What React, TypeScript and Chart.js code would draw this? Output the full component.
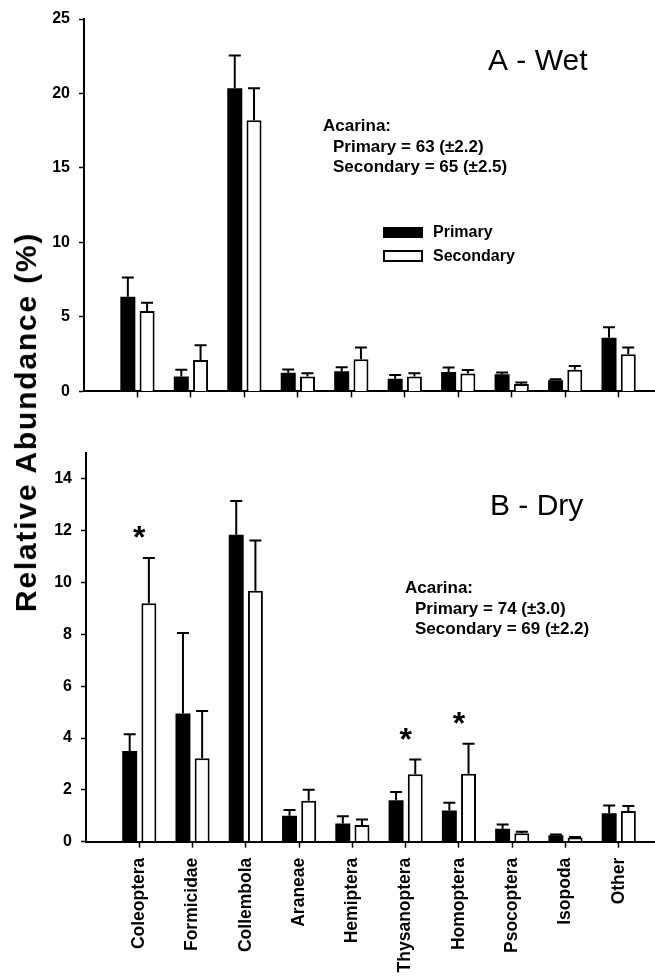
import React, { useEffect, useRef } from "react";
import { Chart, registerables } from "chart.js";

Chart.register(...registerables);

const FONT = '"Liberation Sans", Arial, Helvetica, sans-serif';

const categories = [
  "Coleoptera",
  "Formicidae",
  "Collembola",
  "Araneae",
  "Hemiptera",
  "Thysanoptera",
  "Homoptera",
  "Psocoptera",
  "Isopoda",
  "Other",
];
const seriesNames = ["Primary", "Secondary"];

// A - Wet season (mean and +SE)
const wetPrimary = [6.35, 1.0, 20.35, 1.25, 1.35, 0.85, 1.3, 1.15, 0.75, 3.6];
const wetPrimarySE = [1.3, 0.45, 2.2, 0.22, 0.27, 0.25, 0.3, 0.12, 0.07, 0.7];
const wetSecondary = [5.4, 2.1, 18.2, 1.0, 2.15, 1.0, 1.2, 0.5, 1.45, 2.5];
const wetSecondarySE = [0.55, 1.0, 2.15, 0.22, 0.8, 0.22, 0.23, 0.1, 0.26, 0.45];

// B - Dry season (mean and +SE)
const dryPrimary = [3.5, 4.95, 11.85, 1.0, 0.7, 1.6, 1.2, 0.5, 0.25, 1.1];
const dryPrimarySE = [0.65, 3.1, 1.3, 0.22, 0.28, 0.32, 0.3, 0.16, 0.03, 0.3];
const drySecondary = [9.2, 3.22, 9.68, 1.58, 0.64, 2.6, 2.62, 0.33, 0.16, 1.18];
const drySecondarySE = [1.75, 1.82, 1.94, 0.42, 0.22, 0.57, 1.16, 0.05, 0.02, 0.2];

const wetTicks = [0, 5, 10, 15, 20, 25];
const wetMax = 25;
const dryTicks = [0, 2, 4, 6, 8, 10, 12, 14];
const dryMax = 15;

const drySignificant = ["Coleoptera", "Thysanoptera", "Homoptera"];

const wetTitle = "A - Wet";
const dryTitle = "B - Dry";
const wetAcarina = ["Acarina:", "Primary = 63 (\u00b12.2)", "Secondary = 65 (\u00b12.5)"];
const dryAcarina = ["Acarina:", "Primary = 74 (\u00b13.0)", "Secondary = 69 (\u00b12.2)"];
const yTitle = "Relative Abundance (%)";

const X_MAX = 10.68;

const errorBarPlugin = {
  id: "errorBars",
  afterDatasetsDraw(chart: any) {
    const ctx = chart.ctx;
    const yScale = chart.scales.y;
    chart.data.datasets.forEach((ds: any, di: number) => {
      const meta = chart.getDatasetMeta(di);
      meta.data.forEach((bar: any, i: number) => {
        const v = ds.data[i].y;
        const e = ds.errors[i];
        const top = yScale.getPixelForValue(v + e);
        const { x, y } = bar.getProps(["x", "y"], true);
        ctx.save();
        ctx.strokeStyle = "#000";
        ctx.lineWidth = 2;
        ctx.beginPath();
        ctx.moveTo(x, y);
        ctx.lineTo(x, top);
        ctx.moveTo(x - 6, top);
        ctx.lineTo(x + 6, top);
        ctx.stroke();
        ctx.restore();
      });
    });
  },
};

const annotationPlugin = {
  id: "panelText",
  afterDraw(chart: any, _args: any, opts: any) {
    const ctx = chart.ctx;
    ctx.save();
    ctx.fillStyle = "#000";
    ctx.textBaseline = "alphabetic";
    ctx.textAlign = "left";
    (opts.texts || []).forEach((t: any) => {
      ctx.font = t.font;
      ctx.fillText(t.text, t.x, t.y);
    });
    if (opts.legend) {
      const L = opts.legend;
      ctx.fillStyle = "#000";
      ctx.fillRect(L.x, L.y1, 40, 11);
      ctx.fillStyle = "#fff";
      ctx.fillRect(L.x + 1, L.y2 + 1, 38, 10);
      ctx.strokeStyle = "#000";
      ctx.lineWidth = 2;
      ctx.strokeRect(L.x + 1, L.y2 + 1, 38, 10);
      ctx.fillStyle = "#000";
      ctx.font = `bold 16px ${FONT}`;
      ctx.fillText(seriesNames[0], L.x + 50, L.y1 + 10);
      ctx.fillText(seriesNames[1], L.x + 50, L.y2 + 11);
    }
    if (opts.stars) {
      const xs = chart.scales.x;
      const ys = chart.scales.y;
      ctx.font = `bold 32px ${FONT}`;
      ctx.textAlign = "center";
      const ds = chart.data.datasets;
      opts.stars.forEach((name: string) => {
        const i = categories.indexOf(name);
        const topVal = Math.max(
          ds[0].data[i].y + ds[0].errors[i],
          ds[1].data[i].y + ds[1].errors[i]
        );
        const cx = xs.getPixelForValue(i + 1);
        const cy = ys.getPixelForValue(topVal) - 26;
        const m = ctx.measureText("*");
        const base = cy + (m.actualBoundingBoxAscent - m.actualBoundingBoxDescent) / 2;
        ctx.fillText("*", cx, base);
      });
    }
    ctx.restore();
  },
};

function makeConfig(p: any) {
  return {
    type: "bar",
    data: {
      datasets: [
        {
          label: seriesNames[0],
          data: categories.map((_, i) => ({ x: i + 1, y: p.primary[i] })),
          errors: p.primarySE,
          backgroundColor: "#000",
          borderColor: "#000",
          borderWidth: 0,
        },
        {
          label: seriesNames[1],
          data: categories.map((_, i) => ({ x: i + 1, y: p.secondary[i] })),
          errors: p.secondarySE,
          backgroundColor: "#fff",
          borderColor: "#000",
          borderWidth: 2,
        },
      ],
    },
    options: {
      responsive: false,
      animation: false,
      events: [],
      layout: { padding: { top: p.padTop, left: 0, right: 0, bottom: 0 } },
      datasets: { bar: { categoryPercentage: 0.72, barPercentage: 0.78 } },
      plugins: {
        legend: { display: false },
        tooltip: { enabled: false },
        title: { display: false },
        panelText: { texts: p.texts, legend: p.legend, stars: p.stars },
      },
      scales: {
        x: {
          type: "linear",
          min: 0,
          max: X_MAX,
          offset: false,
          z: 1,
          afterBuildTicks: (s: any) => {
            s.ticks = categories.map((_, i) => ({ value: i + 1 }));
          },
          afterFit: (s: any) => {
            s.height = p.xHeight;
          },
          grid: {
            display: true,
            drawOnChartArea: false,
            drawTicks: true,
            tickLength: 6,
            tickWidth: 1.5,
            tickColor: "#000",
            offset: false,
          },
          border: { display: true, color: "#000", width: 2 },
          ticks: {
            display: p.showLabels,
            autoSkip: false,
            maxRotation: 90,
            minRotation: 90,
            padding: 10,
            color: "#000",
            font: { family: FONT, size: 17.5, weight: "bold" },
            callback: (v: any) => categories[Math.round(v) - 1] ?? "",
          },
        },
        y: {
          type: "linear",
          min: 0,
          max: p.max,
          z: 1,
          afterBuildTicks: (s: any) => {
            s.ticks = p.ticks.map((v: number) => ({ value: v }));
          },
          afterFit: (s: any) => {
            s.width = p.left;
          },
          grid: {
            drawOnChartArea: false,
            drawTicks: true,
            tickLength: 5,
            tickWidth: 1.5,
            tickColor: "#000",
          },
          border: { display: true, color: "#000", width: 2 },
          ticks: {
            padding: 9,
            color: "#000",
            font: { family: FONT, size: 16, weight: "bold" },
          },
        },
      },
    },
    plugins: [errorBarPlugin, annotationPlugin],
  };
}

export default function App() {
  const topRef = useRef<HTMLCanvasElement>(null);
  const botRef = useRef<HTMLCanvasElement>(null);

  useEffect(() => {
    const top = new Chart(
      topRef.current as HTMLCanvasElement,
      makeConfig({
        primary: wetPrimary,
        primarySE: wetPrimarySE,
        secondary: wetSecondary,
        secondarySE: wetSecondarySE,
        ticks: wetTicks,
        max: wetMax,
        padTop: 19,
        left: 84,
        xHeight: 17,
        showLabels: false,
        texts: [
          { text: wetTitle, x: 488, y: 70, font: `30px ${FONT}` },
          { text: wetAcarina[0], x: 323, y: 131, font: `bold 17px ${FONT}` },
          { text: wetAcarina[1], x: 333, y: 152, font: `bold 17px ${FONT}` },
          { text: wetAcarina[2], x: 333, y: 172, font: `bold 17px ${FONT}` },
        ],
        legend: { x: 383, y1: 227, y2: 250 },
        stars: null,
      }) as any
    );
    const bot = new Chart(
      botRef.current as HTMLCanvasElement,
      makeConfig({
        primary: dryPrimary,
        primarySE: dryPrimarySE,
        secondary: drySecondary,
        secondarySE: drySecondarySE,
        ticks: dryTicks,
        max: dryMax,
        padTop: 43,
        left: 86,
        xHeight: 134.3,
        showLabels: true,
        texts: [
          { text: dryTitle, x: 490, y: 105, font: `30px ${FONT}` },
          { text: dryAcarina[0], x: 405, y: 183, font: `bold 17px ${FONT}` },
          { text: dryAcarina[1], x: 415, y: 204, font: `bold 17px ${FONT}` },
          { text: dryAcarina[2], x: 415, y: 224, font: `bold 17px ${FONT}` },
        ],
        legend: null,
        stars: drySignificant,
      }) as any
    );
    return () => {
      top.destroy();
      bot.destroy();
    };
  }, []);

  return (
    <div
      style={{
        position: "absolute",
        left: 0,
        top: 0,
        width: 655,
        height: 976,
        background: "#fff",
        overflow: "hidden",
      }}
    >
      <canvas
        ref={topRef}
        width={655}
        height={410}
        style={{ position: "absolute", left: 0, top: 0, display: "block" }}
      />
      <canvas
        ref={botRef}
        width={655}
        height={566}
        style={{ position: "absolute", left: 0, top: 410, display: "block" }}
      />
      <div
        style={{
          position: "absolute",
          left: 26,
          top: 422,
          transform: "translate(-50%, -50%) rotate(-90deg)",
          whiteSpace: "nowrap",
          fontFamily: FONT,
          fontWeight: "bold",
          fontSize: 30,
          letterSpacing: "1.8px",
          lineHeight: "30px",
          color: "#000",
        }}
      >
        {yTitle}
      </div>
    </div>
  );
}
